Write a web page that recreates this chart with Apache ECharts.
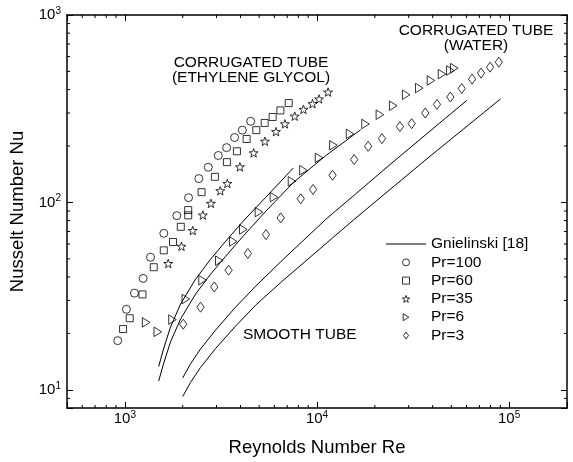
<!DOCTYPE html>
<html><head><meta charset="utf-8">
<script src="https://cdn.jsdelivr.net/npm/echarts@6/dist/echarts.min.js"></script>
<style>html,body{margin:0;padding:0;background:#fff}#c{width:573px;height:462px}</style>
</head><body><div id="c"></div>
<script>
// ---- data ----
const re100 = [918, 1019, 1122, 1245, 1360, 1595, 1864, 2145, 2427, 2717, 3064, 3385, 3725, 4087, 4517];
const nu100 = [18.3, 26.9, 32.8, 39.3, 51, 68.4, 85, 106, 134, 154, 178, 196, 222, 243, 271];

const re60 = [979, 1060, 1235, 1414, 1594, 1781, 1955, 2137, 2137, 2507, 2942, 3397, 3831, 4303, 4833, 5342, 5877, 6450, 7125];
const nu60 = [21.1, 24.1, 32.3, 45.1, 55.5, 61.5, 74.1, 85.3, 91, 113.4, 137, 164, 187.5, 218, 243, 265.5, 285.7, 309.7, 339];

const re35 = [1681, 1972, 2256, 2547, 2804, 3139, 3414, 3970, 4680, 5358, 6117, 6807, 7657, 8503, 9475, 10250, 11420];
const nu35 = [47.2, 58.3, 70.8, 85.6, 98.8, 115.4, 126.2, 154.8, 183.8, 211.9, 238.6, 262.5, 288.5, 313.6, 336.3, 356.3, 387.9];

const re6 = [1291, 1484, 1770, 2077, 2538, 3101, 3669, 4136, 4989, 5972, 7413, 8500, 10250, 12180, 14870, 17890, 21250, 24930, 29130, 34060, 39190, 44740, 49430, 51850];
const nu6 = [22.9, 20.4, 23.7, 30.5, 38.5, 48.9, 61.9, 71.8, 88.8, 106.7, 129.6, 148.5, 172.9, 201.8, 232, 262.2, 293.8, 328, 375.5, 407.5, 447.3, 483.7, 505.4, 520.6];

const re3 = [2013, 2477, 2920, 3467, 4367, 5426, 6472, 8231, 9539, 12040, 15610, 18460, 21770, 27010, 31080, 36600, 42120, 49400, 56650, 64120, 71430, 79580, 88360];
const nu3 = [22.4, 27.6, 35.4, 43.5, 53.4, 67.3, 82.7, 104.6, 117.3, 139.7, 169.3, 199.3, 219, 253.7, 263.2, 300, 333.4, 365, 405.5, 455, 489.6, 527, 560.3];

// Gnielinski [18] curves
const reC1 = [1500, 1589, 1728, 1949, 2333, 2794, 3345, 4167, 5406, 7541];
const nuC1 = [13.30, 16.52, 21.63, 28.67, 38.94, 49.75, 62.02, 80.23, 106.3, 152.9];
const reC2 = [1500, 1589, 1728, 1949, 2333, 2794, 3345, 4167, 5406, 7541, 11110, 16910];
const nuC2 = [11.13, 13.75, 18.00, 23.86, 32.41, 41.40, 51.61, 66.76, 89.58, 127.8, 177.8, 244.5];
const reC3 = [2000, 2197, 2477, 2967, 3771, 4796, 6474, 11110, 25750, 60170];
const nuC3 = [11.58, 13.75, 16.52, 20.85, 27.64, 35.75, 48.25, 81.21, 169.3, 350.1];
const reC4 = [2000, 2197, 2477, 2967, 3771, 4796, 6474, 15610, 36910, 90060];
const nuC4 = [9.21, 10.96, 13.17, 16.62, 21.90, 28.32, 37.40, 81.21, 169.3, 356.2];

// axes
const xRange = [500, 200000];
const yRange = [8, 1000];
const xMinorTicks = [600, 700, 800, 900, 2000, 3000, 4000, 5000, 6000, 7000, 8000, 9000, 20000, 30000, 40000, 50000, 60000, 70000, 80000, 90000];
const yMinorTicks = [9, 20, 30, 40, 50, 60, 70, 80, 90, 200, 300, 400, 500, 600, 700, 800, 900];

const legendNames = ['Gnielinski [18]', 'Pr=100', 'Pr=60', 'Pr=35', 'Pr=6', 'Pr=3'];
const xTitle = 'Reynolds Number Re';
const yTitle = 'Nusselt Number Nu';

// ---- chart ----
const FONT = '"Liberation Sans", Arial, Helvetica, sans-serif';
const pairs = (a, b) => a.map((v, i) => [v, b[i]]);
const STAR = 'path://M0,-10L2.35,-3.24L9.51,-3.09L3.8,1.24L5.88,8.09L0,4.1L-5.88,8.09L-3.8,1.24L-9.51,-3.09L-2.35,-3.24Z';
const TRI = 'path://M0,0L8,5L0,10Z';
const DIA = 'path://M4,0L8,5.5L4,11L0,5.5Z';
const SQ = 'path://M0,0L10,0L10,10L0,10Z';
const LINEICON = 'path://M0,0L40,0L40,1L0,1Z';

function powLabel(v) {
  const e = Math.log10(v), r = Math.round(e);
  if (Math.abs(e - r) > 1e-6) return '';
  return '{b|10}{s|' + r + '}';
}
const rich = {
  b: { fontSize: 15, fontFamily: FONT, color: '#000', lineHeight: 18 },
  s: { fontSize: 10, fontFamily: FONT, color: '#000', lineHeight: 10, verticalAlign: 'top' }
};
const axLine = { show: true, onZero: false, lineStyle: { color: '#000', width: 1.5 } };
const axTick = { show: true, inside: true, length: 6, lineStyle: { color: '#000', width: 1 } };

const hollow = { color: 'rgba(0,0,0,0)', borderColor: '#000', borderWidth: 1 };
function scatter(name, re, nu, symbol, size) {
  return { name, type: 'scatter', data: pairs(re, nu), symbol, symbolSize: size, symbolKeepAspect: true, itemStyle: hollow, z: 3 };
}
function curve(re, nu) {
  return { name: 'Gnielinski [18]', type: 'line', data: pairs(re, nu), symbol: 'none', showSymbol: false,
           smooth: false, lineStyle: { color: '#000', width: 1 }, itemStyle: { color: '#000' }, z: 2 };
}

const chart = echarts.init(document.getElementById('c'), null, { renderer: 'canvas' });
chart.setOption({
  animation: false,
  backgroundColor: '#fff',
  textStyle: { fontFamily: FONT },
  grid: { left: 67, right: 6, top: 15, bottom: 53 },
  xAxis: [
    { type: 'log', min: xRange[0], max: xRange[1], logBase: 10, position: 'bottom',
      axisLine: axLine, axisTick: axTick, splitLine: { show: false },
      axisLabel: { formatter: powLabel, rich, margin: 2 },
      name: xTitle, nameLocation: 'middle', nameGap: 30,
      nameTextStyle: { fontSize: 18.5, fontFamily: FONT, color: '#000' } },
    { type: 'log', min: xRange[0], max: xRange[1], logBase: 10, position: 'top',
      axisLine: axLine, axisTick: axTick, splitLine: { show: false }, axisLabel: { show: false } }
  ],
  yAxis: [
    { type: 'log', min: yRange[0], max: yRange[1], logBase: 10, position: 'left',
      axisLine: axLine, axisTick: axTick, splitLine: { show: false },
      axisLabel: { formatter: powLabel, rich, margin: 6 },
      name: yTitle, nameLocation: 'middle', nameGap: 31, nameRotate: 90,
      nameTextStyle: { fontSize: 18.5, fontFamily: FONT, color: '#000' } },
    { type: 'log', min: yRange[0], max: yRange[1], logBase: 10, position: 'right',
      axisLine: axLine, axisTick: axTick, splitLine: { show: false }, axisLabel: { show: false } }
  ],
  legend: {
    data: [
      { name: legendNames[0], icon: LINEICON, itemStyle: { color: '#000', borderWidth: 0 } },
      { name: legendNames[1], icon: 'circle' },
      { name: legendNames[2], icon: SQ },
      { name: legendNames[3], icon: STAR },
      { name: legendNames[4], icon: TRI },
      { name: legendNames[5], icon: DIA }
    ],
    orient: 'vertical', left: 386, top: 236, padding: 0,
    itemWidth: 40, itemHeight: 7, itemGap: 2.3, selectedMode: false, symbolKeepAspect: true,
    itemStyle: { borderWidth: 1, borderColor: '#000' },
    textStyle: { fontSize: 15.5, fontFamily: FONT, color: '#000', lineHeight: 15 }
  },
  graphic: [
    { type: 'text', x: 251, y: 55, style: { text: 'CORRUGATED TUBE\n(ETHYLENE GLYCOL)', align: 'center', verticalAlign: 'top',
      fontSize: 15.5, lineHeight: 15, fontFamily: FONT, fill: '#000' } },
    { type: 'text', x: 476, y: 23, style: { text: 'CORRUGATED TUBE\n(WATER)', align: 'center', verticalAlign: 'top',
      fontSize: 15.5, lineHeight: 15, fontFamily: FONT, fill: '#000' } },
    { type: 'text', x: 243, y: 327, style: { text: 'SMOOTH TUBE', align: 'left', verticalAlign: 'top',
      fontSize: 15.5, lineHeight: 15, fontFamily: FONT, fill: '#000' } }
  ],
  series: [
    curve(reC1, nuC1), curve(reC2, nuC2), curve(reC3, nuC3), curve(reC4, nuC4),
    scatter('Pr=100', re100, nu100, 'circle', 8),
    scatter('Pr=60', re60, nu60, SQ, 7),
    scatter('Pr=35', re35, nu35, STAR, 9),
    scatter('Pr=6', re6, nu6, TRI, 9.5),
    scatter('Pr=3', re3, nu3, DIA, 10),
    { type: 'custom', silent: true, clip: false, z: 4,
      data: xMinorTicks.map(v => [v, 100]),
      renderItem: function (params, api) {
        const cs = params.coordSys; const p = api.coord([api.value(0), 100]);
        const st = { stroke: '#000', lineWidth: 1 };
        return { type: 'group', children: [
          { type: 'line', shape: { x1: p[0], y1: cs.y + cs.height, x2: p[0], y2: cs.y + cs.height - 3 }, style: st },
          { type: 'line', shape: { x1: p[0], y1: cs.y, x2: p[0], y2: cs.y + 3 }, style: st } ] };
      } },
    { type: 'custom', silent: true, clip: false, z: 4,
      data: yMinorTicks.map(v => [1000, v]),
      renderItem: function (params, api) {
        const cs = params.coordSys; const p = api.coord([1000, api.value(1)]);
        const st = { stroke: '#000', lineWidth: 1 };
        return { type: 'group', children: [
          { type: 'line', shape: { x1: cs.x, y1: p[1], x2: cs.x + 3, y2: p[1] }, style: st },
          { type: 'line', shape: { x1: cs.x + cs.width, y1: p[1], x2: cs.x + cs.width - 3, y2: p[1] }, style: st } ] };
      } }
  ]
});
</script></body></html>
